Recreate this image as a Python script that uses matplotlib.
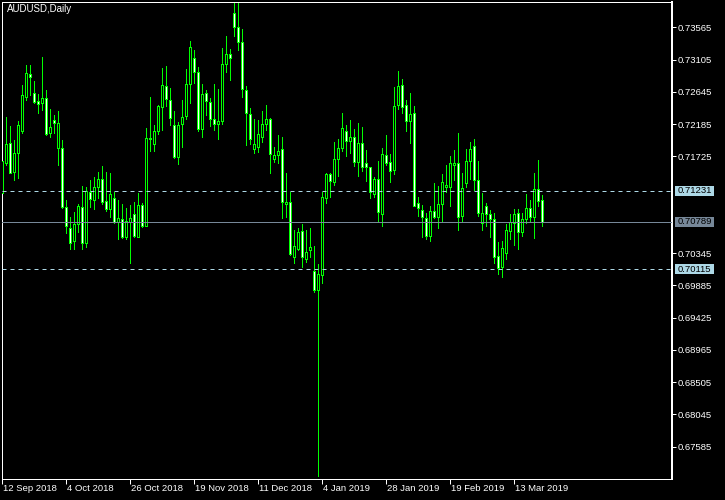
import matplotlib
matplotlib.use("Agg")
import matplotlib.pyplot as plt
import matplotlib.transforms as mtransforms
from matplotlib.patches import Rectangle
import numpy as np

TITLE = "AUDUSD,Daily"

# daily bars, 12 Sep 2018 .. 20 Mar 2019
OPEN = [0.7120, 0.7163, 0.7192, 0.7150, 0.7177, 0.7209, 0.7257, 0.7290, 0.7263, 0.7251,
        0.7249, 0.7256, 0.7206, 0.7224, 0.7184, 0.7184, 0.7100, 0.7070, 0.7052, 0.7076,
        0.7100, 0.7049, 0.7122, 0.7110, 0.7129, 0.7140, 0.7109, 0.7097, 0.7113, 0.7079,
        0.7083, 0.7057, 0.7079, 0.7090, 0.7057, 0.7103, 0.7073, 0.7197, 0.7190, 0.7209,
        0.7243, 0.7273, 0.7253, 0.7217, 0.7172, 0.7219, 0.7230, 0.7276, 0.7313, 0.7293,
        0.7211, 0.7263, 0.7250, 0.7226, 0.7219, 0.7223, 0.7304, 0.7318, 0.7377, 0.7357,
        0.7336, 0.7267, 0.7233, 0.7183, 0.7186, 0.7200, 0.7219, 0.7226, 0.7169, 0.7174,
        0.7183, 0.7105, 0.7107, 0.7029, 0.7040, 0.7066, 0.7026, 0.7039, 0.7009, 0.6982,
        0.7003, 0.7113, 0.7147, 0.7136, 0.7169, 0.7184, 0.7209, 0.7194, 0.7200, 0.7164,
        0.7192, 0.7163, 0.7157, 0.7119, 0.7140, 0.7090, 0.7174, 0.7164, 0.7153, 0.7246,
        0.7274, 0.7246, 0.7223, 0.7234, 0.7106, 0.7096, 0.7085, 0.7059, 0.7095, 0.7086,
        0.7105, 0.7129, 0.7129, 0.7160, 0.7163, 0.7087, 0.7134, 0.7166, 0.7187, 0.7139,
        0.7077, 0.7102, 0.7090, 0.7083, 0.7030, 0.7015, 0.7035, 0.7066, 0.7077, 0.7092,
        0.7065, 0.7083, 0.7099, 0.7086, 0.7126, 0.7110]
HIGH = [0.7170, 0.7229, 0.7216, 0.7196, 0.7223, 0.7274, 0.7303, 0.7303, 0.7280, 0.7261,
        0.7314, 0.7267, 0.7240, 0.7231, 0.7237, 0.7196, 0.7110, 0.7086, 0.7093, 0.7105,
        0.7130, 0.7129, 0.7139, 0.7143, 0.7150, 0.7159, 0.7150, 0.7149, 0.7122, 0.7110,
        0.7105, 0.7099, 0.7103, 0.7107, 0.7120, 0.7106, 0.7213, 0.7257, 0.7217, 0.7246,
        0.7298, 0.7301, 0.7270, 0.7237, 0.7221, 0.7253, 0.7297, 0.7337, 0.7324, 0.7300,
        0.7276, 0.7267, 0.7256, 0.7276, 0.7268, 0.7327, 0.7344, 0.7326, 0.7394, 0.7394,
        0.7354, 0.7273, 0.7241, 0.7226, 0.7224, 0.7237, 0.7246, 0.7227, 0.7186, 0.7203,
        0.7200, 0.7149, 0.7122, 0.7067, 0.7070, 0.7076, 0.7067, 0.7070, 0.7045, 0.7019,
        0.7122, 0.7149, 0.7149, 0.7193, 0.7197, 0.7234, 0.7217, 0.7224, 0.7211, 0.7220,
        0.7214, 0.7182, 0.7157, 0.7143, 0.7166, 0.7184, 0.7203, 0.7176, 0.7271, 0.7294,
        0.7283, 0.7253, 0.7263, 0.7244, 0.7115, 0.7103, 0.7092, 0.7102, 0.7134, 0.7130,
        0.7147, 0.7160, 0.7173, 0.7182, 0.7206, 0.7149, 0.7183, 0.7193, 0.7197, 0.7166,
        0.7120, 0.7106, 0.7096, 0.7092, 0.7050, 0.7052, 0.7076, 0.7090, 0.7097, 0.7097,
        0.7092, 0.7119, 0.7110, 0.7149, 0.7167, 0.7117]
LOW = [0.7117, 0.7160, 0.7149, 0.7139, 0.7142, 0.7206, 0.7253, 0.7260, 0.7249, 0.7234,
       0.7239, 0.7203, 0.7200, 0.7206, 0.7160, 0.7099, 0.7063, 0.7040, 0.7040, 0.7065,
       0.7040, 0.7043, 0.7100, 0.7097, 0.7113, 0.7105, 0.7095, 0.7086, 0.7077, 0.7055,
       0.7056, 0.7055, 0.7020, 0.7057, 0.7057, 0.7072, 0.7073, 0.7180, 0.7180, 0.7204,
       0.7210, 0.7244, 0.7217, 0.7170, 0.7162, 0.7186, 0.7226, 0.7249, 0.7277, 0.7209,
       0.7200, 0.7231, 0.7216, 0.7210, 0.7197, 0.7219, 0.7293, 0.7281, 0.7344, 0.7324,
       0.7257, 0.7189, 0.7190, 0.7177, 0.7179, 0.7193, 0.7210, 0.7149, 0.7164, 0.7163,
       0.7085, 0.7086, 0.7032, 0.7020, 0.7039, 0.7015, 0.7022, 0.7029, 0.6979, 0.6716,
       0.6992, 0.7106, 0.7115, 0.7132, 0.7144, 0.7180, 0.7173, 0.7177, 0.7159, 0.7144,
       0.7152, 0.7137, 0.7113, 0.7115, 0.7079, 0.7073, 0.7160, 0.7136, 0.7147, 0.7240,
       0.7234, 0.7209, 0.7192, 0.7102, 0.7087, 0.7057, 0.7055, 0.7052, 0.7085, 0.7070,
       0.7079, 0.7122, 0.7102, 0.7139, 0.7067, 0.7080, 0.7129, 0.7140, 0.7124, 0.7087,
       0.7067, 0.7073, 0.7057, 0.7020, 0.7005, 0.7000, 0.7026, 0.7055, 0.7046, 0.7040,
       0.7059, 0.7077, 0.7080, 0.7056, 0.7102, 0.7073]
CLOSE = [0.7166, 0.7190, 0.7149, 0.7177, 0.7217, 0.7260, 0.7291, 0.7286, 0.7250, 0.7247,
         0.7256, 0.7204, 0.7214, 0.7220, 0.7220, 0.7100, 0.7073, 0.7049, 0.7076, 0.7102,
         0.7049, 0.7123, 0.7112, 0.7129, 0.7140, 0.7107, 0.7097, 0.7119, 0.7079, 0.7085,
         0.7057, 0.7080, 0.7085, 0.7059, 0.7103, 0.7073, 0.7199, 0.7199, 0.7209, 0.7244,
         0.7274, 0.7254, 0.7227, 0.7172, 0.7217, 0.7229, 0.7276, 0.7328, 0.7293, 0.7211,
         0.7261, 0.7251, 0.7226, 0.7219, 0.7223, 0.7304, 0.7318, 0.7313, 0.7357, 0.7336,
         0.7268, 0.7234, 0.7197, 0.7190, 0.7204, 0.7219, 0.7226, 0.7176, 0.7174, 0.7180,
         0.7107, 0.7107, 0.7033, 0.7045, 0.7065, 0.7029, 0.7036, 0.7043, 0.6982, 0.7005,
         0.7115, 0.7147, 0.7137, 0.7169, 0.7184, 0.7213, 0.7194, 0.7200, 0.7164, 0.7192,
         0.7157, 0.7157, 0.7122, 0.7140, 0.7093, 0.7176, 0.7163, 0.7152, 0.7244, 0.7273,
         0.7243, 0.7223, 0.7233, 0.7102, 0.7099, 0.7086, 0.7059, 0.7095, 0.7086, 0.7105,
         0.7136, 0.7132, 0.7163, 0.7163, 0.7086, 0.7127, 0.7166, 0.7183, 0.7139, 0.7092,
         0.7092, 0.7090, 0.7083, 0.7029, 0.7013, 0.7042, 0.7067, 0.7079, 0.7090, 0.7065,
         0.7083, 0.7099, 0.7086, 0.7126, 0.7109, 0.7079]

PRICE_TICKS = [0.73565, 0.73105, 0.72645, 0.72185, 0.71725, 0.70345,
               0.69885, 0.69425, 0.68965, 0.68505, 0.68045, 0.67585]
DATE_BARS = [0, 16, 32, 48, 64, 80, 96, 112, 128]
DATE_LABELS = ["12 Sep 2018", "4 Oct 2018", "26 Oct 2018", "19 Nov 2018", "11 Dec 2018",
               "4 Jan 2019", "28 Jan 2019", "19 Feb 2019", "13 Mar 2019"]

LEVEL_HIGH = 0.71231
LEVEL_LOW = 0.70115
BID = 0.70789

GREEN = "#00ff00"
LEVEL_COLOR = "#add8e6"
BID_COLOR = "#778899"

W, H = 725, 500
PX = 72.0 / 100  # one pixel in points

plt.rcParams["font.family"] = ["Liberation Sans", "DejaVu Sans"]

fig = plt.figure(figsize=(W / 100, H / 100), dpi=100, facecolor="black")
ax = fig.add_axes([2 / W, 21 / H, 670 / W, 477 / H], facecolor="black")

o = np.array(OPEN)
hi = np.array(HIGH)
lo = np.array(LOW)
c = np.array(CLOSE)
x = np.arange(len(o))

# wicks first, bodies on top
ax.vlines(x, lo, hi, color=GREEN, linewidth=PX, antialiased=False, zorder=2)
bull = c >= o
body_bottom = np.minimum(o, c)
body_height = np.abs(c - o)
ax.bar(x[bull], body_height[bull], bottom=body_bottom[bull], width=0.5,
       color="black", edgecolor=GREEN, linewidth=PX, antialiased=False, zorder=3)
ax.bar(x[~bull], body_height[~bull], bottom=body_bottom[~bull], width=0.5,
       color="white", edgecolor=GREEN, linewidth=PX, antialiased=False, zorder=3)

# price levels
ax.axhline(LEVEL_HIGH, color=LEVEL_COLOR, linewidth=PX, linestyle=(0, (4, 4)), zorder=4)
ax.axhline(LEVEL_LOW, color=LEVEL_COLOR, linewidth=PX, linestyle=(0, (4, 4)), zorder=4)
ax.axhline(BID, color=BID_COLOR, linewidth=PX, zorder=4)

ax.set_xlim(-0.075, 167.425)
ax.set_ylim(0.67123, 0.73925)

for side in ["top", "bottom", "left", "right"]:
    ax.spines[side].set_color("white")
    ax.spines[side].set_linewidth(PX)
ax.spines["right"].set_linewidth(2 * PX)

ax.yaxis.tick_right()
ax.set_yticks(PRICE_TICKS)
ax.set_yticklabels([f"{p:.5f}" for p in PRICE_TICKS])
ax.tick_params(axis="y", colors="white", length=4 * PX, width=PX, labelsize=6.8, pad=1.5)

ax.set_xticks(DATE_BARS)
ax.set_xticklabels([])
ax.tick_params(axis="x", colors="white", length=5 * PX, width=PX)

tr_date = mtransforms.blended_transform_factory(ax.transData, fig.transFigure)
for b, lab in zip(DATE_BARS, DATE_LABELS):
    ax.text(b + 0.1, 1 - 484 / H, lab, transform=tr_date, color="white",
            fontsize=6.8, ha="left", va="top", clip_on=False)

# highlighted price labels on the scale
tr_lab = mtransforms.blended_transform_factory(fig.transFigure, ax.transData)
box_h = 10 * (0.73925 - 0.67123) / 477
for level, bg in [(LEVEL_HIGH, LEVEL_COLOR), (BID, BID_COLOR), (LEVEL_LOW, LEVEL_COLOR)]:
    ax.add_patch(Rectangle((675 / W, level - box_h / 2), 39 / W, box_h, transform=tr_lab,
                           facecolor=bg, edgecolor="none", clip_on=False, zorder=5))
    ax.text(678 / W, level, f"{level:.5f}", transform=tr_lab, color="black",
            fontsize=6.8, ha="left", va="center", clip_on=False, zorder=6)

fig.text(7 / W, 1 - 4 / H, TITLE, color="white", fontsize=7, ha="left", va="top")

fig.savefig("out.png", dpi=100, facecolor="black")
